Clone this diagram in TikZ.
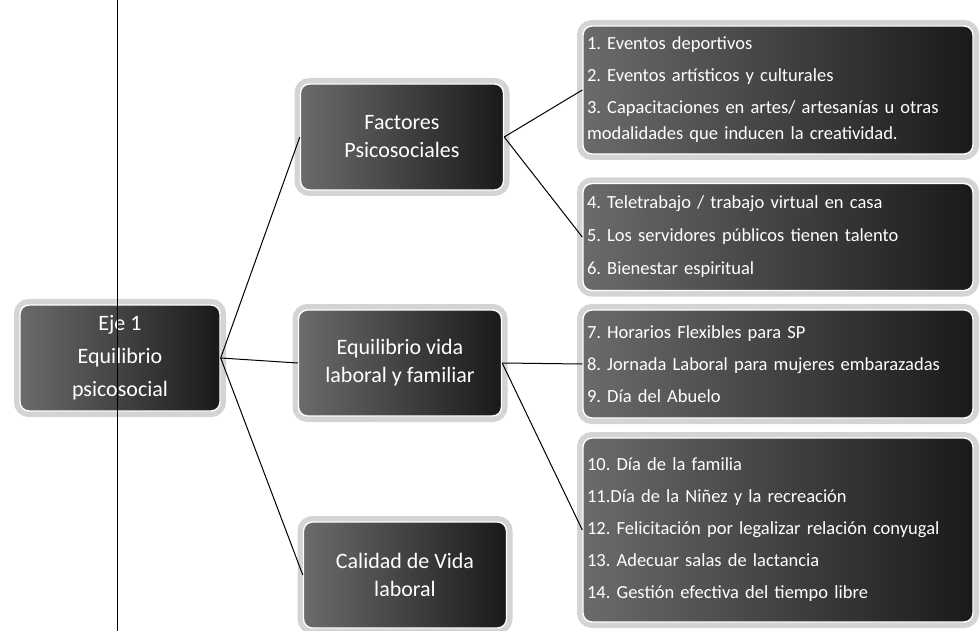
\documentclass[tikz,border=0pt]{standalone}
\usepackage{fontspec}
\setmainfont{Carlito}
\usepackage{tikz}
\usetikzlibrary{calc}
\frenchspacing

\begin{document}
\begin{tikzpicture}[x=1pt,y=-1pt,
  axisbox/.style={draw=white, line width=1.4pt, rounded corners=9pt, text=white,
    left color=black!58, right color=black!90,
    preaction={draw=black!17, line width=12pt},
    inner sep=4pt},
  themebox/.style={axisbox, minimum width=203pt, minimum height=106pt,
    align=center, font=\fontsize{22}{28}\selectfont},
  listbox/.style={axisbox, minimum width=390pt, text width=382pt,
    align=left, font=\fontsize{18.5}{26}\selectfont},
  link/.style={draw=black, line width=1pt}]
\useasboundingbox (0,0) rectangle (980,631);

% Eje
\node[themebox, minimum width=200pt] (eje) at (120,358)
  {Eje 1\\[5pt]Equilibrio\\[5pt]psicosocial};

% Themes
\node[themebox] (psico) at (402,137) {Factores\\Psicosociales};
\node[themebox] (equil) at (400,363) {Equilibrio vida\\laboral y familiar};
\node[themebox] (calid) at (405,575) {Calidad de Vida\\laboral};

% Actions
\node[listbox, minimum height=128pt] (act1) at (778,90)
  {1. Eventos deportivos\\[6pt]
   2. Eventos artísticos y culturales\\[6pt]
   3. Capacitaciones en artes/ artesanías u otras\\
   modalidades que inducen la creatividad.};
\node[listbox, minimum height=107pt] (act2) at (778,237)
  {4. Teletrabajo / trabajo virtual en casa\\[7pt]
   5. Los servidores públicos tienen talento\\[7pt]
   6. Bienestar espiritual};
\node[listbox, minimum height=108pt] (act3) at (778,364)
  {7. Horarios Flexibles para SP\\[6pt]
   8. Jornada Laboral para mujeres embarazadas\\[6pt]
   9. Día del Abuelo};
\node[listbox, minimum height=184pt] (act4) at (778,530)
  {10. Día de la familia\\[6pt]
   11.Día de la Niñez y la recreación\\[6pt]
   12. Felicitación por legalizar relación conyugal\\[6pt]
   13. Adecuar salas de lactancia\\[6pt]
   14. Gestión efectiva  del tiempo libre};

% Links
\draw[link] (eje.east) -- (psico.west);
\draw[link] (eje.east) -- (equil.west);
\draw[link] (eje.east) -- (calid.west);
\draw[link] (psico.east) -- (act1.west);
\draw[link] (psico.east) -- (act2.west);
\draw[link] (equil.east) -- (act3.west);
\draw[link] (equil.east) -- (act4.west);

% Fold line
\coordinate (foldtop) at (117,0);
\coordinate (foldbot) at (117,631);
\draw[line width=1pt] (foldtop) -- (foldbot);
\end{tikzpicture}
\end{document}
